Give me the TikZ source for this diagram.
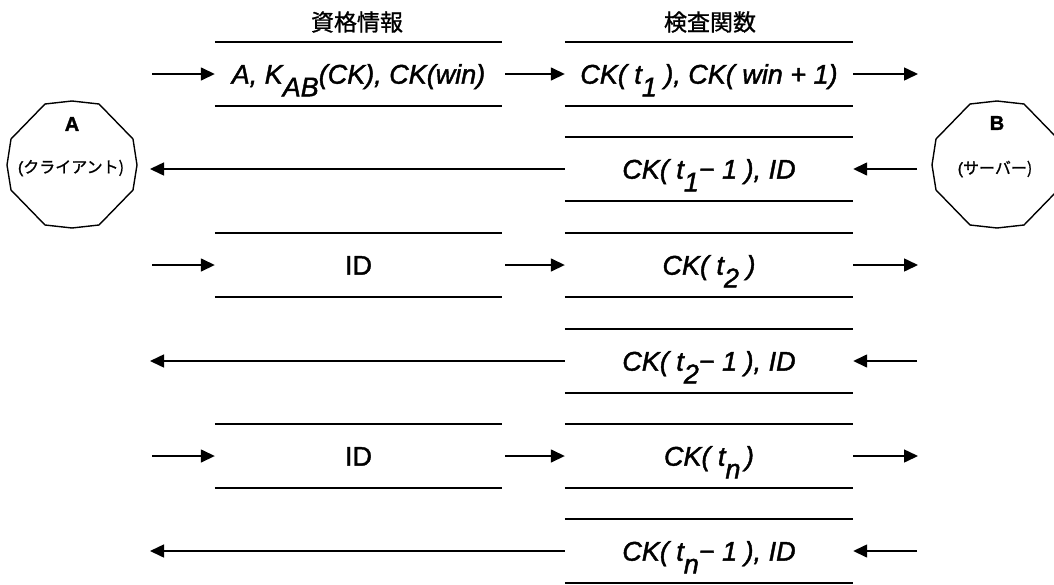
\documentclass[tikz,border=0pt]{standalone}
\usepackage{fontspec}
\setmainfont{Liberation Sans}[FakeBold=1.5]
\newfontfamily\jpfont{Noto Sans CJK JP}[FakeBold=1]
\usetikzlibrary{arrows.meta}
\newcommand\lsub[1]{\raisebox{-0.47em}{#1}}
\begin{document}
\begin{tikzpicture}[x=1pt,y=-1pt,
  bar/.style={line width=1.8pt},
  msg/.style={line width=1.5pt,-{Triangle[length=14pt,width=13pt]}},
  boxL/.style={minimum width=287pt,minimum height=64pt,inner sep=0pt,text height=19.3pt,text depth=0pt,font=\fontsize{27}{27}\selectfont\itshape},
  boxR/.style={boxL,minimum width=288pt},
  title/.style={font=\jpfont\fontsize{23}{23}\selectfont},
  plab/.style={font=\bfseries\fontsize{20}{20}\selectfont},
  psub/.style={font=\fontsize{16}{16}\selectfont},
  poly/.style={line width=1.4pt}
]
\useasboundingbox (0,0) rectangle (1054,584);
\clip (0,0) rectangle (1054,584);
% titles
\node[title] (tL) at (357,22) {資格情報};
\node[title] (tR) at (710,22) {検査関数};
% parties
\node (A) at (72,165) {};
\node (B) at (997,165) {};
\draw[poly] (A.center) ++(0,-64) -- ++(27,3) -- ++(34,35) -- ++(4,26) -- ++(-4,25) -- ++(-34,35) -- ++(-27,3) -- ++(-27,-3) -- ++(-34,-35) -- ++(-4,-25) -- ++(4,-26) -- ++(34,-35) -- cycle;
\draw[poly] (B.center) ++(0,-64) -- ++(27,3) -- ++(34,35) -- ++(4,26) -- ++(-4,25) -- ++(-34,35) -- ++(-27,3) -- ++(-27,-3) -- ++(-34,-35) -- ++(-4,-25) -- ++(4,-26) -- ++(34,-35) -- cycle;
\node[plab] (Alab) at (72,124) {A};
\node[psub] (Asub) at (71,168) {(\jpfont クライアント)};
\node[plab] (Blab) at (997,123) {B};
\node[psub] (Bsub) at (995,169) {(\jpfont サーバー)};
% boxes
\node[boxL] (L1) at (358.5,74) {A, K\lsub{AB}(CK), CK(win)};
\node[boxR] (R1) at (709,74) {CK( t\lsub{1}\ ), CK( win + 1)};
\node[boxR] (R2) at (709,169) {CK( t\lsub{1}− 1 ), ID};
\node[boxL,font=\fontsize{27}{27}\selectfont\upshape] (L3) at (358.5,265) {ID};
\node[boxR] (R3) at (709,265) {CK( t\lsub{2} )};
\node[boxR] (R4) at (709,361) {CK( t\lsub{2}− 1 ), ID};
\node[boxL,font=\fontsize{27}{27}\selectfont\upshape] (L5) at (358.5,456) {ID};
\node[boxR] (R5) at (709,456) {CK( t\lsub{n}\,)};
\node[boxR] (R6) at (709,551) {CK( t\lsub{n}− 1 ), ID};
\foreach \n in {L1,R1,R2,L3,R3,R4,L5,R5,R6}{
  \draw[bar] (\n.north west) -- (\n.north east);
  \draw[bar] (\n.south west) -- (\n.south east);
}
% free ends
\coordinate (s1) at (152,74);
\coordinate (e1) at (918,74);
\coordinate (s2) at (917,169);
\coordinate (e2) at (150,169);
\coordinate (s3) at (152,265);
\coordinate (e3) at (918,265);
\coordinate (s4) at (917,361);
\coordinate (e4) at (150,361);
\coordinate (s5) at (152,456);
\coordinate (e5) at (918,456);
\coordinate (s6) at (917,551);
\coordinate (e6) at (150,551);
% arrows
\draw[msg] (s1) -- (L1.west);
\draw[msg] (L1.east) ++(3,0) -- (R1.west);
\draw[msg] (R1.east) -- (e1);
\draw[msg] (s2) -- (R2.east);
\draw[msg] (R2.west) -- (e2);
\draw[msg] (s3) -- (L3.west);
\draw[msg] (L3.east) ++(3,0) -- (R3.west);
\draw[msg] (R3.east) -- (e3);
\draw[msg] (s4) -- (R4.east);
\draw[msg] (R4.west) -- (e4);
\draw[msg] (s5) -- (L5.west);
\draw[msg] (L5.east) ++(3,0) -- (R5.west);
\draw[msg] (R5.east) -- (e5);
\draw[msg] (s6) -- (R6.east);
\draw[msg] (R6.west) -- (e6);
\end{tikzpicture}
\end{document}
